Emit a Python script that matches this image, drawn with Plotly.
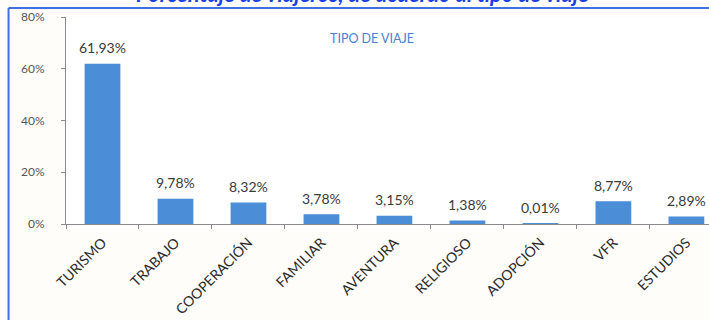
import plotly.graph_objs as go

tipos = ['TURISMO', 'TRABAJO', 'COOPERACIÓN', 'FAMILIAR', 'AVENTURA',
         'RELIGIOSO', 'ADOPCIÓN', 'VFR', 'ESTUDIOS']
porcentajes = [61.93, 9.78, 8.32, 3.78, 3.15, 1.38, 0.01, 8.77, 2.89]
etiquetas = ['61,93%', '9,78%', '8,32%', '3,78%', '3,15%',
             '1,38%', '0,01%', '8,77%', '2,89%']
y_ticks = [0, 20, 40, 60, 80]
y_ticktext = ['0%', '20%', '40%', '60%', '80%']

FONT = 'Lato'

trace1 = go.Bar(
    x=tipos, y=porcentajes,
    marker=dict(color='#4b8dd6', line=dict(width=0)),
    width=0.49,
    showlegend=False,
    hoverinfo='skip',
)

fig = go.Figure([trace1])

# etiquetas de valor sobre las barras
for cat, val, txt in zip(tipos, porcentajes, etiquetas):
    fig.add_annotation(
        x=cat, y=val, text=txt, showarrow=False,
        yanchor='middle', yshift=16,
        font=dict(family=FONT, size=14, color='#3a3a3a'),
    )

fig.add_annotation(
    x=(372 - 65.5) / 643.5, y=(224 - 29) / 207, xref='paper', yref='paper',
    text='TIPO DE VIAJE', showarrow=False,
    font=dict(family=FONT, size=12.5, color='#4a7fd4'),
)

# titulo recortado arriba
fig.add_annotation(
    x=(362 - 65.5) / 643.5, y=(224 + 6) / 207, xref='paper', yref='paper',
    text='<b><i>Porcentaje de viajeros, de acuerdo al tipo de viaje</i></b>',
    showarrow=False, yanchor='middle',
    font=dict(family=FONT, size=22, color='#1a3fe6'),
)

# marco azul
fig.add_shape(type='line', xref='paper', yref='paper',
              x0=(8 - 65.5) / 643.5, x1=1.01, y0=(224 - 8) / 207, y1=(224 - 8) / 207,
              line=dict(color='#3f6fe0', width=2))
fig.add_shape(type='line', xref='paper', yref='paper',
              x0=(8 - 65.5) / 643.5, x1=(8 - 65.5) / 643.5,
              y0=(224 - 8) / 207, y1=(224 - 330) / 207,
              line=dict(color='#3f6fe0', width=2))

fig.update_layout(
    width=709, height=320,
    margin=dict(l=65.5, r=0, t=17, b=96, pad=0),
    paper_bgcolor='#fffdf9',
    plot_bgcolor='#ffffff',
    xaxis=dict(
        range=[-0.5, 8.31],
        tickangle=-45,
        tickfont=dict(family=FONT, size=14, color='#2a2a2a'),
        ticklabelstandoff=4,
        showline=True, linecolor='#8a8a8a', linewidth=1,
        ticks='outside', ticklen=4, tickcolor='#8a8a8a',
        tickson='boundaries',
        showgrid=False, zeroline=False,
    ),
    yaxis=dict(
        range=[0, 80],
        tickvals=y_ticks, ticktext=y_ticktext,
        tickfont=dict(family=FONT, size=12, color='#555555'),
        ticklabelstandoff=14,
        showline=True, linecolor='#8a8a8a', linewidth=1,
        ticks='outside', ticklen=4, tickcolor='#8a8a8a',
        showgrid=False, zeroline=False,
    ),
)

fig.write_html("out.html", config=dict(displayModeBar=False),
               post_script="document.body.style.margin='0';document.body.style.overflow='hidden';")
